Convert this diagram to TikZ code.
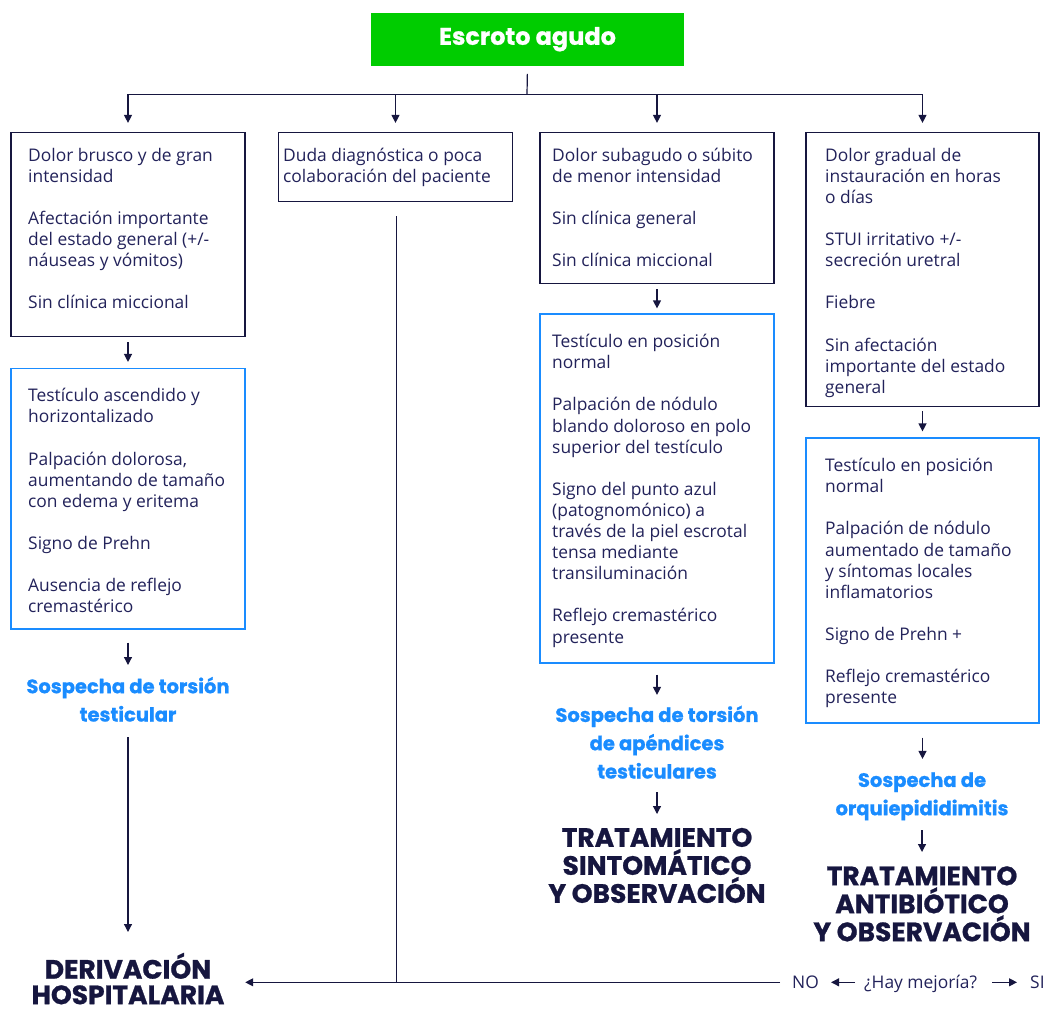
\documentclass[tikz,border=0pt]{standalone}
\usepackage{fontspec}
\setmainfont{Open Sans}
\newfontfamily\popp{Poppins}[BoldFeatures={FakeBold=0.9}]
\usetikzlibrary{arrows.meta}
\definecolor{navy}{HTML}{22225A}
\definecolor{linec}{HTML}{16163F}
\definecolor{skyb}{HTML}{1A8CFF}
\definecolor{grn}{HTML}{00CC00}
\newcommand\bodyf{\fontsize{17.4}{21.1}\selectfont}
\newcommand\susf{\popp\bfseries\fontsize{19.5}{28.3}\selectfont\lineskiplimit=-50pt}
\newcommand\bigf{\popp\bfseries\fontsize{26.5}{28}\selectfont\lineskiplimit=-50pt}
\newcommand\pgap{\\[21.1pt]}
\begin{document}
\begin{tikzpicture}[x=1pt,y=-1pt,
 boxn/.style={draw=linec, line width=1.2pt, inner sep=0pt},
 blueb/.style={draw=skyb, line width=1.2pt, inner sep=0pt},
 txt/.style={anchor=north west, inner sep=0pt, align=left, text=navy, font=\bodyf},
 sus/.style={anchor=north, inner sep=0pt, align=center, text=skyb, font=\susf},
 big/.style={anchor=north, inner sep=0pt, align=center, text=linec, font=\bigf},
 small/.style={inner sep=0pt, text=navy, font=\bodyf, text height=12.6pt, text depth=0pt},
 con/.style={draw=linec, line width=1.2pt},
 arr/.style={con, -{Triangle[length=8pt,width=8pt]}},
]
\useasboundingbox (0,0) rectangle (1048,1008);

% top
\node[fill=grn, minimum width=313pt, minimum height=53pt, inner sep=0pt, text=white,
      font=\popp\bfseries\fontsize{24}{28}\selectfont] (top) at (527.5,39.2) {Escroto agudo};

% first row boxes
\node[boxn, minimum width=234pt, minimum height=204pt] (b1) at (128,234.5) {};
\node[boxn, minimum width=234pt, minimum height=69pt] (b2) at (395.5,167) {};
\node[boxn, minimum width=234pt, minimum height=151pt] (b3) at (657,208) {};
\node[boxn, minimum width=233pt, minimum height=274pt] (b4) at (922.5,269.5) {};

\node[txt] (t1) at (28,146.2) {\strut Dolor brusco y de gran\\intensidad\pgap
Afectación importante\\del estado general (+/-\\náuseas y vómitos)\pgap
Sin clínica miccional};
\node[txt] (t2) at (283,146.2) {\strut Duda diagnóstica o poca\\colaboración del paciente};
\node[txt] (t3) at (552,146.2) {\strut Dolor subagudo o súbito\\de menor intensidad\pgap
Sin clínica general\pgap Sin clínica miccional};
\node[txt] (t4) at (825,146.2) {\strut Dolor gradual de\\instauración en horas\\o días\pgap
STUI irritativo +/-\\secreción uretral\pgap Fiebre\pgap
Sin afectación\\importante del estado\\general};

% blue boxes
\node[blueb, minimum width=234pt, minimum height=260.5pt] (c1) at (128,498.8) {};
\node[blueb, minimum width=234pt, minimum height=349pt] (c3) at (657,488.5) {};
\node[blueb, minimum width=233pt, minimum height=285pt] (c4) at (922.5,580.5) {};

\node[txt] (u1) at (28,386.9) {\strut Testículo ascendido y\\horizontalizado\pgap
Palpación dolorosa,\\aumentando de tamaño\\con edema y eritema\pgap
Signo de Prehn\pgap Ausencia de reflejo\\cremastérico};
\node[txt] (u3) at (552,332.7) {\strut Testículo en posición\\normal\pgap
Palpación de nódulo\\blando doloroso en polo\\superior del testículo\pgap
Signo del punto azul\\(patognomónico) a\\través de la piel escrotal\\tensa mediante\\transiluminación\pgap
Reflejo cremastérico\\presente};
\node[txt] (u4) at (825,456.7) {\strut Testículo en posición\\normal\pgap
Palpación de nódulo\\aumentado de tamaño\\y síntomas locales\\inflamatorios\pgap
Signo de Prehn +\pgap Reflejo cremastérico\\presente};

% suspicion labels
\node[sus] (s1) at (128,673.2) {\strut Sospecha de torsión\\testicular\strut};
\node[sus] (s3) at (657,701.9) {\strut Sospecha de torsión\\de apéndices\\testiculares\strut};
\node[sus] (s4) at (922,766.9) {\strut Sospecha de\\orquiepididimitis\strut};

% outcomes
\node[big, text width=232pt] (d) at (128,952.6) {\strut DERIVACIÓN\\[-2.5pt]HOSPITALARIA};
\node[big] (r3) at (657,827) {\strut TRATAMIENTO\\SINTOMÁTICO\\Y OBSERVACIÓN};
\node[big] (r4) at (922,865.4) {\strut TRATAMIENTO\\ANTIBIÓTICO\\Y OBSERVACIÓN};

% bottom question
\node[small, anchor=west] (q) at (864,982.3) {¿Hay mejoría?};
\node[small, anchor=west] (no) at (792,982.3) {NO};
\node[small, anchor=west] (si) at (1030,982.3) {SI};
\coordinate (j) at (396.5,982.3);
\coordinate (split) at (527,94.3);

% connectors
\draw[con, shorten <=8pt] (top.south) -- (split);
\draw[con] (split -| b1.north) -- (split -| b4.north);
\foreach \b in {b1,b2,b3,b4}
  \draw[arr, shorten >=9pt] (split -| \b.north) -- (\b.north);

\draw[arr, shorten <=5pt, shorten >=6pt] (b1.south) -- (c1.north);
\draw[arr, shorten <=5pt, shorten >=5pt] (b3.south) -- (c3.north);
\draw[arr, shorten <=4pt, shorten >=6pt] (b4.south) -- (b4.south |- c4.north);

\draw[arr, shorten <=13pt, shorten >=8.2pt] (c1.south) -- (s1.north);
\draw[arr, shorten <=11pt, shorten >=7pt] (c3.south) -- (s3.north);
\draw[arr, shorten <=14pt, shorten >=8pt] (c4.south) -- (c4.south |- s4.north);

\draw[arr, shorten <=7pt, shorten >=20.6pt] (s1.south) -- (d.north);
\draw[arr, shorten <=5pt, shorten >=13pt] (s3.south) -- (r3.north);
\draw[arr, shorten <=6.5pt, shorten >=13.4pt] (s4.south) -- (s4.south |- r4.north);

\draw[con, shorten <=14pt] (b2.south -| j) -- (j);
\draw[arr, shorten <=12pt, shorten >=1pt] (no.west) -- (no.west -| d.east);
\draw[arr, shorten <=9pt, shorten >=12pt] (q.west) -- (no.east);
\draw[arr, shorten <=15pt, shorten >=13pt] (q.east) -- (si.west);
\end{tikzpicture}
\end{document}
